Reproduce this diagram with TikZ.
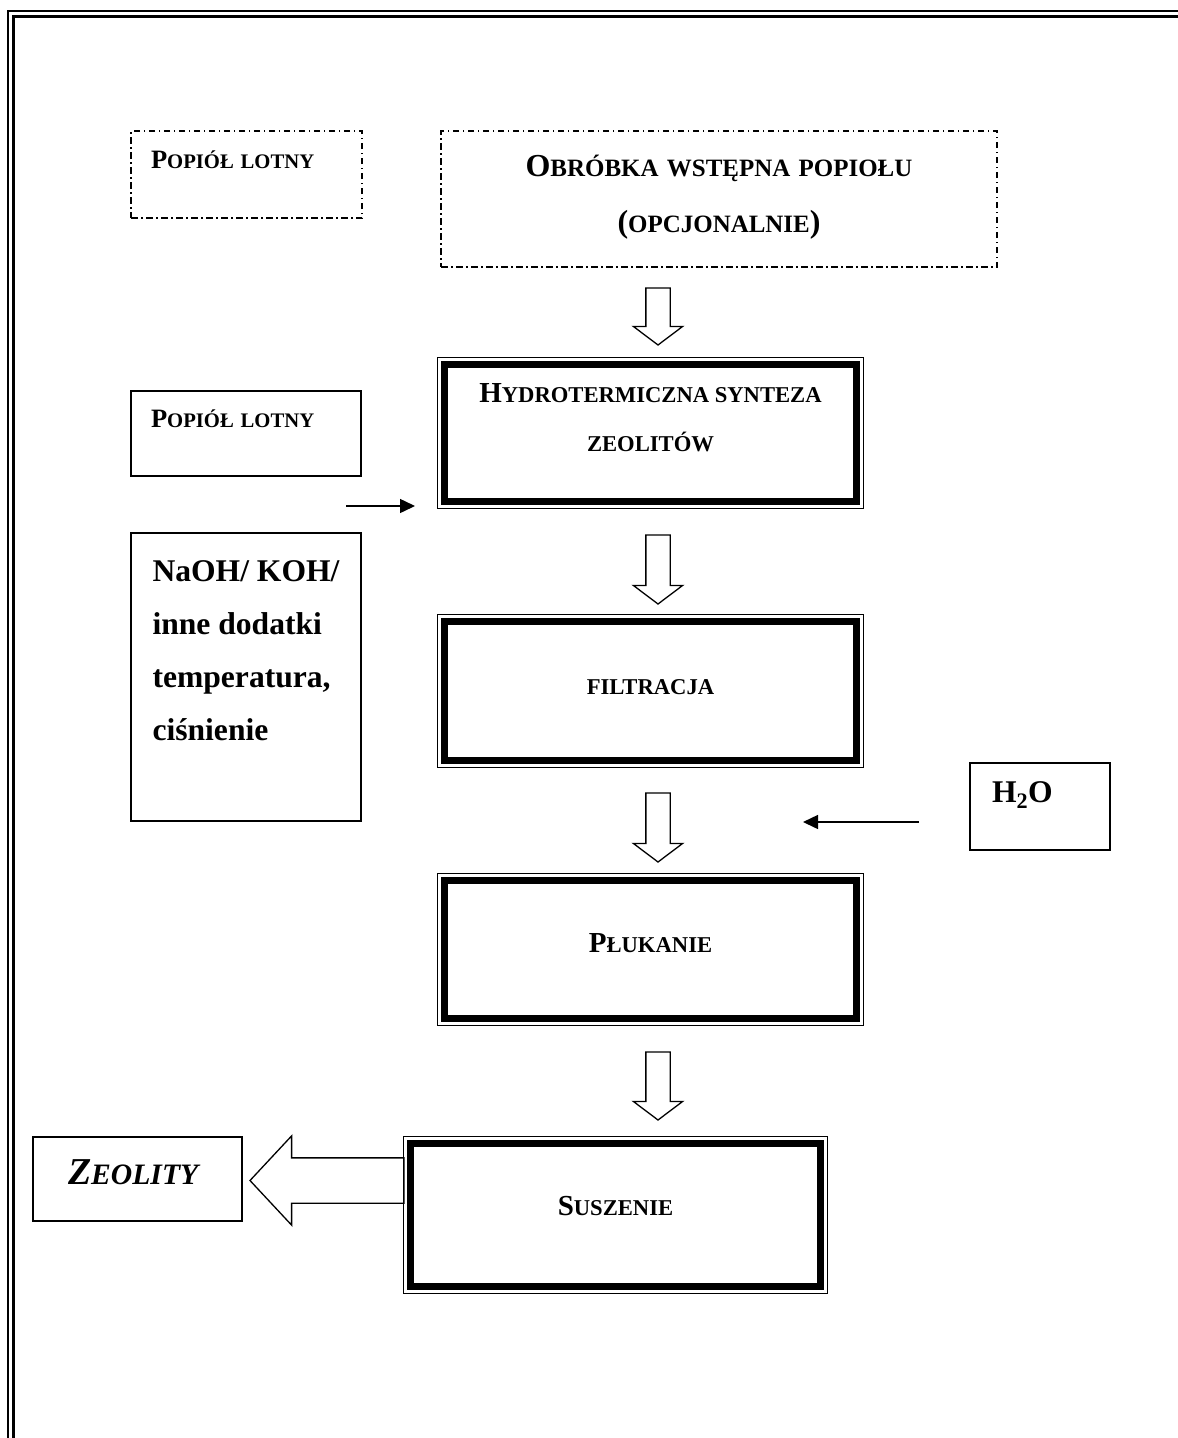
\documentclass[tikz,border=0pt]{standalone}
\usepackage{fontspec}
\setmainfont{Liberation Serif}
\usepackage{graphicx}
\usetikzlibrary{arrows.meta}
\usetikzlibrary{positioning}
\usetikzlibrary{shapes.arrows}

\newcommand{\smc}[1]{\scalebox{0.78}{#1}}
\newcommand{\fs}[2]{\fontsize{#1}{#2}\selectfont\bfseries}

\begin{document}
\begin{tikzpicture}[
    x=1pt, y=-1pt,
    node distance=120pt,
    every node/.style={outer sep=0pt},
    note/.style={draw, line width=1.3pt, align=left, inner xsep=20pt, inner ysep=0pt},
    dotbox/.style={note, dash pattern=on 6.5pt off 3.5pt on 1.5pt off 3.5pt},
    stepbox/.style={draw, line width=7pt, align=center, minimum width=412pt, inner sep=0pt},
    hollow/.style={single arrow, draw, line width=1.3pt, minimum width=48pt, single arrow head extend=12.5pt,
        single arrow tip angle=106, inner sep=11.5pt, shape border rotate=270, anchor=tail},
    feed/.style={line width=1.5pt, -{Triangle[length=15pt, width=14pt]}}
  ]
  \useasboundingbox (0,0) rectangle (1178,1438);
  \clip (0,0) rectangle (1178,1438);

  % page frame
  \draw[line width=2.2pt] (8,11) rectangle (1200,1460);
  \draw[line width=2.6pt] (13.5,16.5) rectangle (1200,1460);

  % inputs
  \node[dotbox, text width=191pt, minimum height=87pt, text height=18pt, text depth=30.5pt, font=\fs{26.5}{30}]
    (ash1) at (246.5,174.5) {P\smc{OPIÓŁ LOTNY}};
  \node[dotbox, align=center, text width=516pt, minimum height=136pt, text height=24pt, text depth=69pt, font=\fs{32}{56}]
    (pre) at (719,199) {O\smc{BRÓBKA WSTĘPNA POPIOŁU}\\(\smc{OPCJONALNIE})};
  \node[note, text width=190pt, minimum height=85pt, text height=18pt, text depth=30.5pt, font=\fs{26.5}{30}]
    (ash2) at (246,433.5) {P\smc{OPIÓŁ LOTNY}};
  \node[note, minimum width=230pt, minimum height=288pt, text height=181pt, text depth=55pt, font=\fs{31.6}{53}]
    (naoh) at (246,677) {NaOH/ KOH/\\inne dodatki\\temperatura,\\ciśnienie};
  \node[note, text width=96pt, inner xsep=22pt, minimum height=87pt, text height=21pt, text depth=29pt, font=\fs{31.6}{36}]
    (water) at (1040,806.5) {H\textsubscript{2}O};
  \node[note, text width=139pt, inner xsep=35pt, minimum height=84pt, text height=25pt, text depth=14pt, font=\fs{38}{42}\itshape]
    (zeol) at (137.5,1179) {Z\smc{EOLITY}};

  % process steps
  \node[stepbox, minimum height=137pt, text height=69pt, text depth=32pt, font=\fs{29}{49}]
    (hydro) at (650.5,433) {H\smc{YDROTERMICZNA SYNTEZA}\\\smc{ZEOLITÓW}};
  \node[stepbox, below=of hydro, minimum height=139pt, text height=15pt, text depth=8pt, font=\fs{29}{34}]
    (filtr) {\smc{FILTRACJA}};
  \node[stepbox, below=of filtr, minimum height=138pt, text height=19pt, text depth=13pt, font=\fs{29}{34}]
    (pluk) {P\smc{ŁUKANIE}};
  \node[stepbox, below=125pt of pluk, xshift=-35pt, minimum width=410pt, minimum height=143pt, text height=19pt,
    text depth=18pt, font=\fs{29}{34}] (susz) {S\smc{USZENIE}};

  \foreach \n in {hydro,filtr,pluk,susz}
    \draw[line width=1.3pt] ([shift={(-7pt,7pt)}]\n.north west) rectangle ([shift={(7pt,-7pt)}]\n.south east);

  % flow arrows
  \node[hollow, minimum height=57pt] (arr1) at (658,288) {};
  \node[hollow, minimum height=69pt] (arr2) at (658,535) {};
  \node[hollow, minimum height=69pt] (arr3) at (658,793) {};
  \node[hollow, minimum height=68pt] (arr4) at (658,1052) {};
  \node[hollow, minimum height=154pt, minimum width=88pt, inner sep=22pt, single arrow head extend=22pt,
    single arrow tip angle=94, shape border rotate=180] (out) at (404,1180.5) {};

  \coordinate (feedA) at (346,506);
  \coordinate (feedB) at (415,506);
  \draw[feed] (feedA) -- (feedB);
  \coordinate (rinseA) at (919,822);
  \coordinate (rinseB) at (803,822);
  \draw[feed] (rinseA) -- (rinseB);
\end{tikzpicture}
\end{document}
